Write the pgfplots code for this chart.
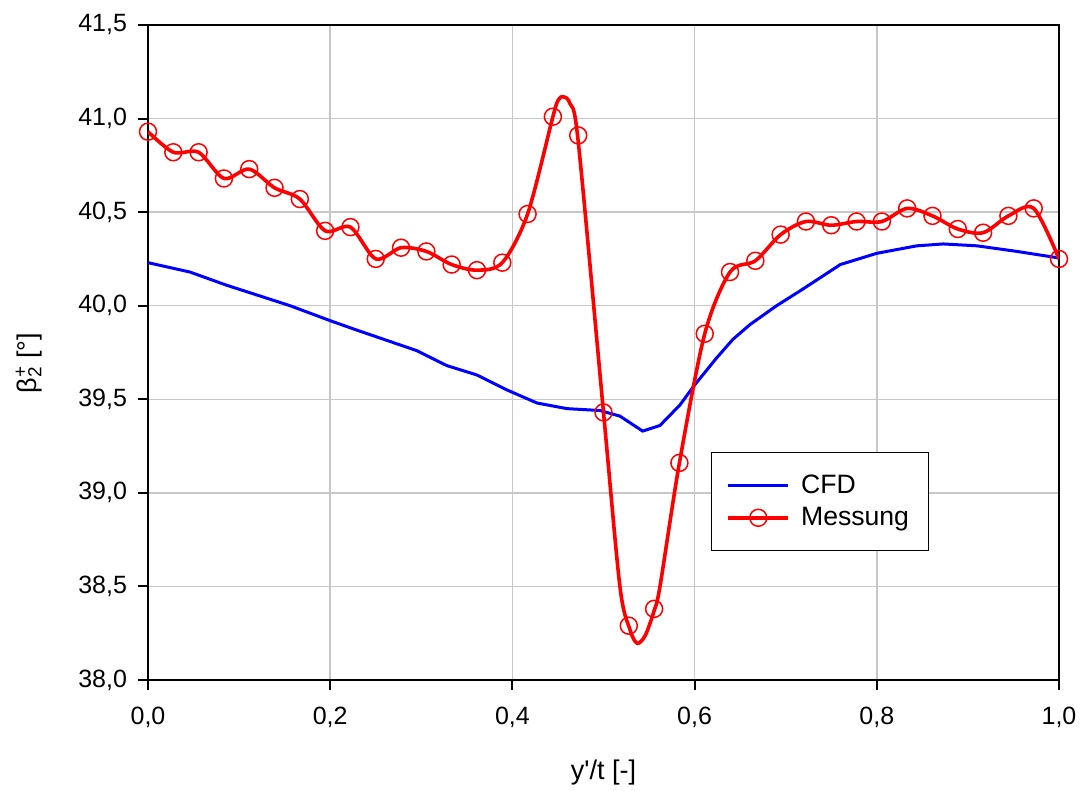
\documentclass[border=0pt]{standalone}
\usepackage{fontspec}
\setmainfont{Liberation Sans}
\usepackage{pgfplots}
\pgfplotsset{compat=1.18}

\pgfplotstableread{
x y
0       40.93
0.02778 40.82
0.05556 40.82
0.08333 40.68
0.11111 40.73
0.13889 40.63
0.16667 40.57
0.19444 40.40
0.22222 40.42
0.25    40.25
0.27778 40.31
0.30556 40.29
0.33333 40.22
0.36111 40.19
0.38889 40.23
0.41667 40.49
0.44444 41.01
0.47222 40.91
0.5     39.43
0.52778 38.29
0.55556 38.38
0.58333 39.16
0.61111 39.85
0.63889 40.18
0.66667 40.24
0.69444 40.38
0.72222 40.45
0.75    40.43
0.77778 40.45
0.80556 40.45
0.83333 40.52
0.86111 40.48
0.88889 40.41
0.91667 40.39
0.94444 40.48
0.97222 40.52
1       40.25
}\messmarks

\pgfplotstableread{
x y
0       40.93
0.02778 40.82
0.05556 40.82
0.08333 40.68
0.11111 40.73
0.13889 40.63
0.16667 40.57
0.19444 40.40
0.22222 40.42
0.25    40.25
0.27778 40.31
0.30556 40.29
0.33333 40.22
0.36111 40.19
0.38889 40.23
0.41667 40.49
0.44444 41.01
0.4504  41.10
0.456   41.117
0.4632  41.08
0.4722  40.88
0.5     39.43
0.518   38.50
0.529   38.27
0.537   38.196
0.546   38.24
0.55556 38.37
0.562   38.50
0.58333 39.16
0.61111 39.85
0.63889 40.18
0.66667 40.24
0.69444 40.38
0.72222 40.45
0.75    40.43
0.77778 40.45
0.80556 40.45
0.83333 40.52
0.86111 40.48
0.88889 40.41
0.91667 40.39
0.94444 40.48
0.97222 40.52
1       40.25
}\messline

\pgfplotstableread{
x y
0     40.23
0.046 40.18
0.086 40.11
0.156 40.00
0.200 39.92
0.229 39.87
0.277 39.79
0.295 39.76
0.328 39.68
0.361 39.63
0.394 39.55
0.427 39.48
0.460 39.45
0.496 39.44
0.518 39.41
0.543 39.33
0.562 39.36
0.584 39.47
0.599 39.57
0.624 39.72
0.642 39.82
0.661 39.90
0.690 40.00
0.716 40.08
0.760 40.22
0.800 40.28
0.844 40.32
0.873 40.33
0.910 40.32
0.954 40.29
1.0   40.255
}\cfd

\begin{document}
\begin{tikzpicture}
\begin{axis}[
  scale only axis, width=455.5pt, height=327.5pt,
  xmin=0, xmax=1, ymin=38, ymax=41.5,
  xtick={0,0.2,0.4,0.6,0.8,1},
  ytick={38,38.5,39,39.5,40,40.5,41,41.5},
  grid=major, major grid style={line width=0.75pt, color=black!22},
  axis line style={line width=1pt},
  tick align=outside, tick pos=left, major tick length=5pt,
  tick style={line width=1pt, black},
  /pgf/number format/.cd, fixed, fixed zerofill, precision=1, use comma, assume math mode=true,
  /pgfplots/.cd,
  ticklabel style={font=\fontsize{12.5}{15}\selectfont},
  yticklabel style={xshift=-2pt},
  xticklabel style={yshift=-5pt},
  xlabel={y\textquotesingle/t [-]},
  ylabel={β\rlap{\textsuperscript{+}}\textsubscript{2} [°]},
  label style={font=\fontsize{13.5}{16}\selectfont},
  xlabel style={at={(rel axis cs:0.5,0)}, anchor=north, inner sep=0pt, yshift=-40pt},
  ylabel style={at={([xshift=-52.5pt]rel axis cs:0,0.484)}, anchor=south, inner sep=0pt},
  legend style={at={(0.618,0.348)}, anchor=north west, draw=black, line width=0.5pt,
    font=\fontsize{13.3}{16}\selectfont, inner xsep=7.5pt, inner ysep=9pt,
    row sep=1.5pt, column sep=3.5pt,
    nodes={inner ysep=2pt}},
  legend cell align=left,
]
\addplot[blue, line width=1.5pt,
  legend image code/.code={\draw[blue, line width=1.5pt] (0pt,0pt) -- (30pt,0pt);}]
  table[x=x,y=y]{\cfd};
\addlegendentry{CFD}
\addplot[red, line width=1.8pt, smooth, forget plot] table[x=x,y=y]{\messline};
\addplot[red, only marks, mark=o, mark size=4.25pt, mark options={line width=0.75pt},
  legend image code/.code={\draw[red, line width=1.8pt] (0pt,0pt) -- (30pt,0pt);
    \draw[red, line width=0.75pt] (15pt,0pt) circle (4.25pt);}]
  table[x=x,y=y]{\messmarks};
\addlegendentry{Messung}
\coordinate (SW) at (rel axis cs:0,0);
\coordinate (NE) at (rel axis cs:1,1);
\end{axis}
\pgfresetboundingbox
\path ([shift={(-74pt,-55.5pt)}]SW) rectangle ([shift={(11pt,12.5pt)}]NE);
\end{tikzpicture}
\end{document}
